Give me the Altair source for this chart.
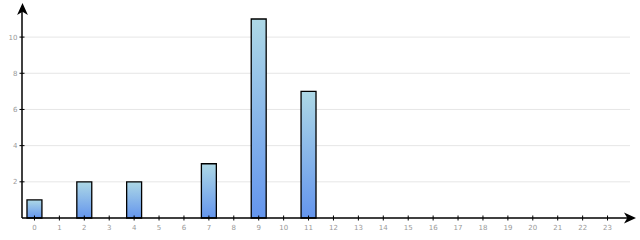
import altair as alt
import pandas as pd

hours = [str(h) for h in range(24)]
counts = [1, 0, 2, 0, 2, 0, 0, 3, 0, 11, 0, 7, 0, 0, 0, 0, 0, 0, 0, 0, 0, 0, 0, 0]
y_ticks = [2, 4, 6, 8, 10]

W, H = 598, 199
LABEL = "#999999"

df = pd.DataFrame({"hour": hours, "count": counts})
tick_df = pd.DataFrame({"v": y_ticks})
one = pd.DataFrame({"a": [0]})

xscale = alt.Scale(domain=hours, paddingInner=0.4, paddingOuter=0.2)
yscale = alt.Scale(domain=[0, 11], nice=False)

grad = alt.Gradient(
    gradient="linear",
    stops=[alt.GradientStop(color="#add8e6", offset=0),
           alt.GradientStop(color="#6495ed", offset=1)],
    x1=0, x2=0, y1=0, y2=1,
)

grid = alt.Chart(tick_df).mark_rule(color="#e6e6e6", strokeWidth=1).encode(
    y=alt.Y("v:Q", scale=yscale, axis=alt.Axis(values=y_ticks, domain=False, ticks=False, grid=False,
                                                 labelFontSize=7, labelColor=LABEL, labelPadding=5,
                                                 labelFont="DejaVu Sans", title=None)),
    x=alt.value(0), x2=alt.value(W + 10),
)

bars = alt.Chart(df).transform_filter("datum.count > 0").mark_bar(
    fill=grad, stroke="black", strokeWidth=1.3
).encode(
    x=alt.X("hour:N", scale=xscale, sort=hours,
            axis=alt.Axis(domain=False, ticks=False, labelAngle=0, labelFontSize=7,
                          labelColor=LABEL, labelPadding=5, labelFont="DejaVu Sans", title=None)),
    y=alt.Y("count:Q", scale=yscale),
)

yaxis_line = alt.Chart(one).mark_rule(color="black", strokeWidth=1.5).encode(
    x=alt.value(0), y=alt.value(H), y2=alt.value(-12))
xaxis_line = alt.Chart(one).mark_rule(color="black", strokeWidth=1.5).encode(
    x=alt.value(0), x2=alt.value(W + 12), y=alt.value(H))

ytick_marks = alt.Chart(tick_df).mark_rule(color="black", strokeWidth=1).encode(
    y=alt.Y("v:Q", scale=yscale), x=alt.value(-2.5), x2=alt.value(2.5))
xtick_marks = alt.Chart(df).mark_rule(color="black", strokeWidth=1).encode(
    x=alt.X("hour:N", scale=xscale, sort=hours), y=alt.value(H - 2.5), y2=alt.value(H + 2.5))

arrow_path = "M0,-1 L0.9,1 L0,0.45 L-0.9,1 Z"
up_arrow = alt.Chart(one).mark_point(shape=arrow_path, filled=True, color="black",
                                     size=144, opacity=1).encode(
    x=alt.value(0.5), y=alt.value(-10))
right_arrow = alt.Chart(one).mark_point(shape=arrow_path, filled=True, color="black",
                                        size=144, opacity=1, angle=90).encode(
    x=alt.value(W + 10), y=alt.value(H))

chart = alt.layer(grid, bars, yaxis_line, xaxis_line, ytick_marks, xtick_marks,
                  up_arrow, right_arrow).properties(
    width=W, height=H,
    autosize=alt.AutoSizeParams(type="none"),
    padding={"left": 22, "top": 19, "right": 20, "bottom": 22},
).configure_view(stroke=None)

chart.save("out.html", embed_options={"renderer": "svg", "actions": False})
